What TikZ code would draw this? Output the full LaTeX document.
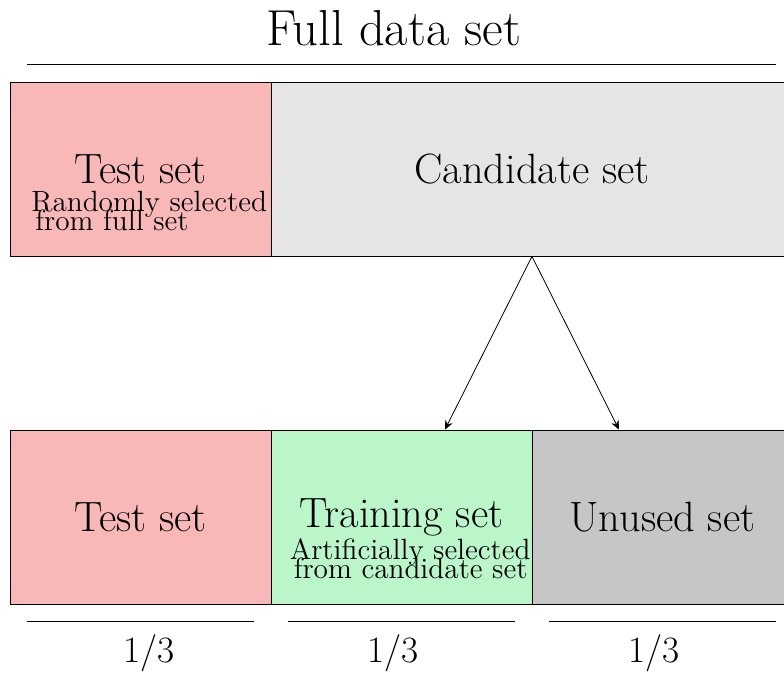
\documentclass[tikz,border=0pt]{standalone}
\usepackage{amsmath}
\usepackage{tikz}
\usetikzlibrary{arrows.meta}

\definecolor{testred}{RGB}{248,184,184}
\definecolor{traingreen}{RGB}{186,246,202}
\definecolor{candgray}{RGB}{229,229,229}
\definecolor{unusedgray}{RGB}{198,198,198}

\begin{document}
\begin{tikzpicture}[x=1.529cm,y=1.529cm,
  setbox/.style={draw,minimum width=4.587cm,minimum height=3.058cm,inner sep=0pt,
    font=\fontsize{21.2pt}{25pt}\selectfont},
  note/.style={align=left,inner sep=0pt,
    font={\fontsize{14.65pt}{9.5pt}\selectfont\lineskiplimit=-20pt}},
  bigtitle/.style={font=\fontsize{25.3pt}{30pt}\selectfont},
  share/.style={font=\fontsize{18.6pt}{22pt}\selectfont}]
\useasboundingbox (-0.115,-0.793) rectangle (8.897,6.943);
% full set
\node[bigtitle] (full) at (4.41,6.62) {Full data set};
\draw (0.2,6.2) -- (8.8,6.2);
\node[setbox,fill=testred] (test1) at (1.5,5) {Test set};
\node[setbox,fill=candgray,minimum width=9.174cm] (cand) at (6,5) {Candidate set};
\node[note] (test1note) at (1.6,4.52) {Randomly selected\\\hspace*{2pt}from full set};
% split of the candidates
\node[setbox,fill=testred] (test2) at (1.5,1) {Test set};
\node[setbox,fill=traingreen] (train) at (4.5,1) {Training set};
\node[setbox,fill=unusedgray] (unused) at (7.5,1) {Unused set};
\node[note] (trainnote) at (4.6,0.52) {Artificially selected\\\hspace*{2pt}from candidate set};
\draw[-{Stealth[length=4.5pt,width=4pt]}] (cand.south) -- ([xshift=0.764cm]train.north);
\draw[-{Stealth[length=4.5pt,width=4pt]}] (cand.south) -- ([xshift=-0.764cm]unused.north);
% thirds
\foreach \x/\lx in {0/1.6,3/4.4,6/7.4}{
  \draw (\x+0.2,-0.2) -- (\x+2.8,-0.2);
  \node[share] (part\x) at (\lx,-0.56) {1/3};
}
\end{tikzpicture}
\end{document}
